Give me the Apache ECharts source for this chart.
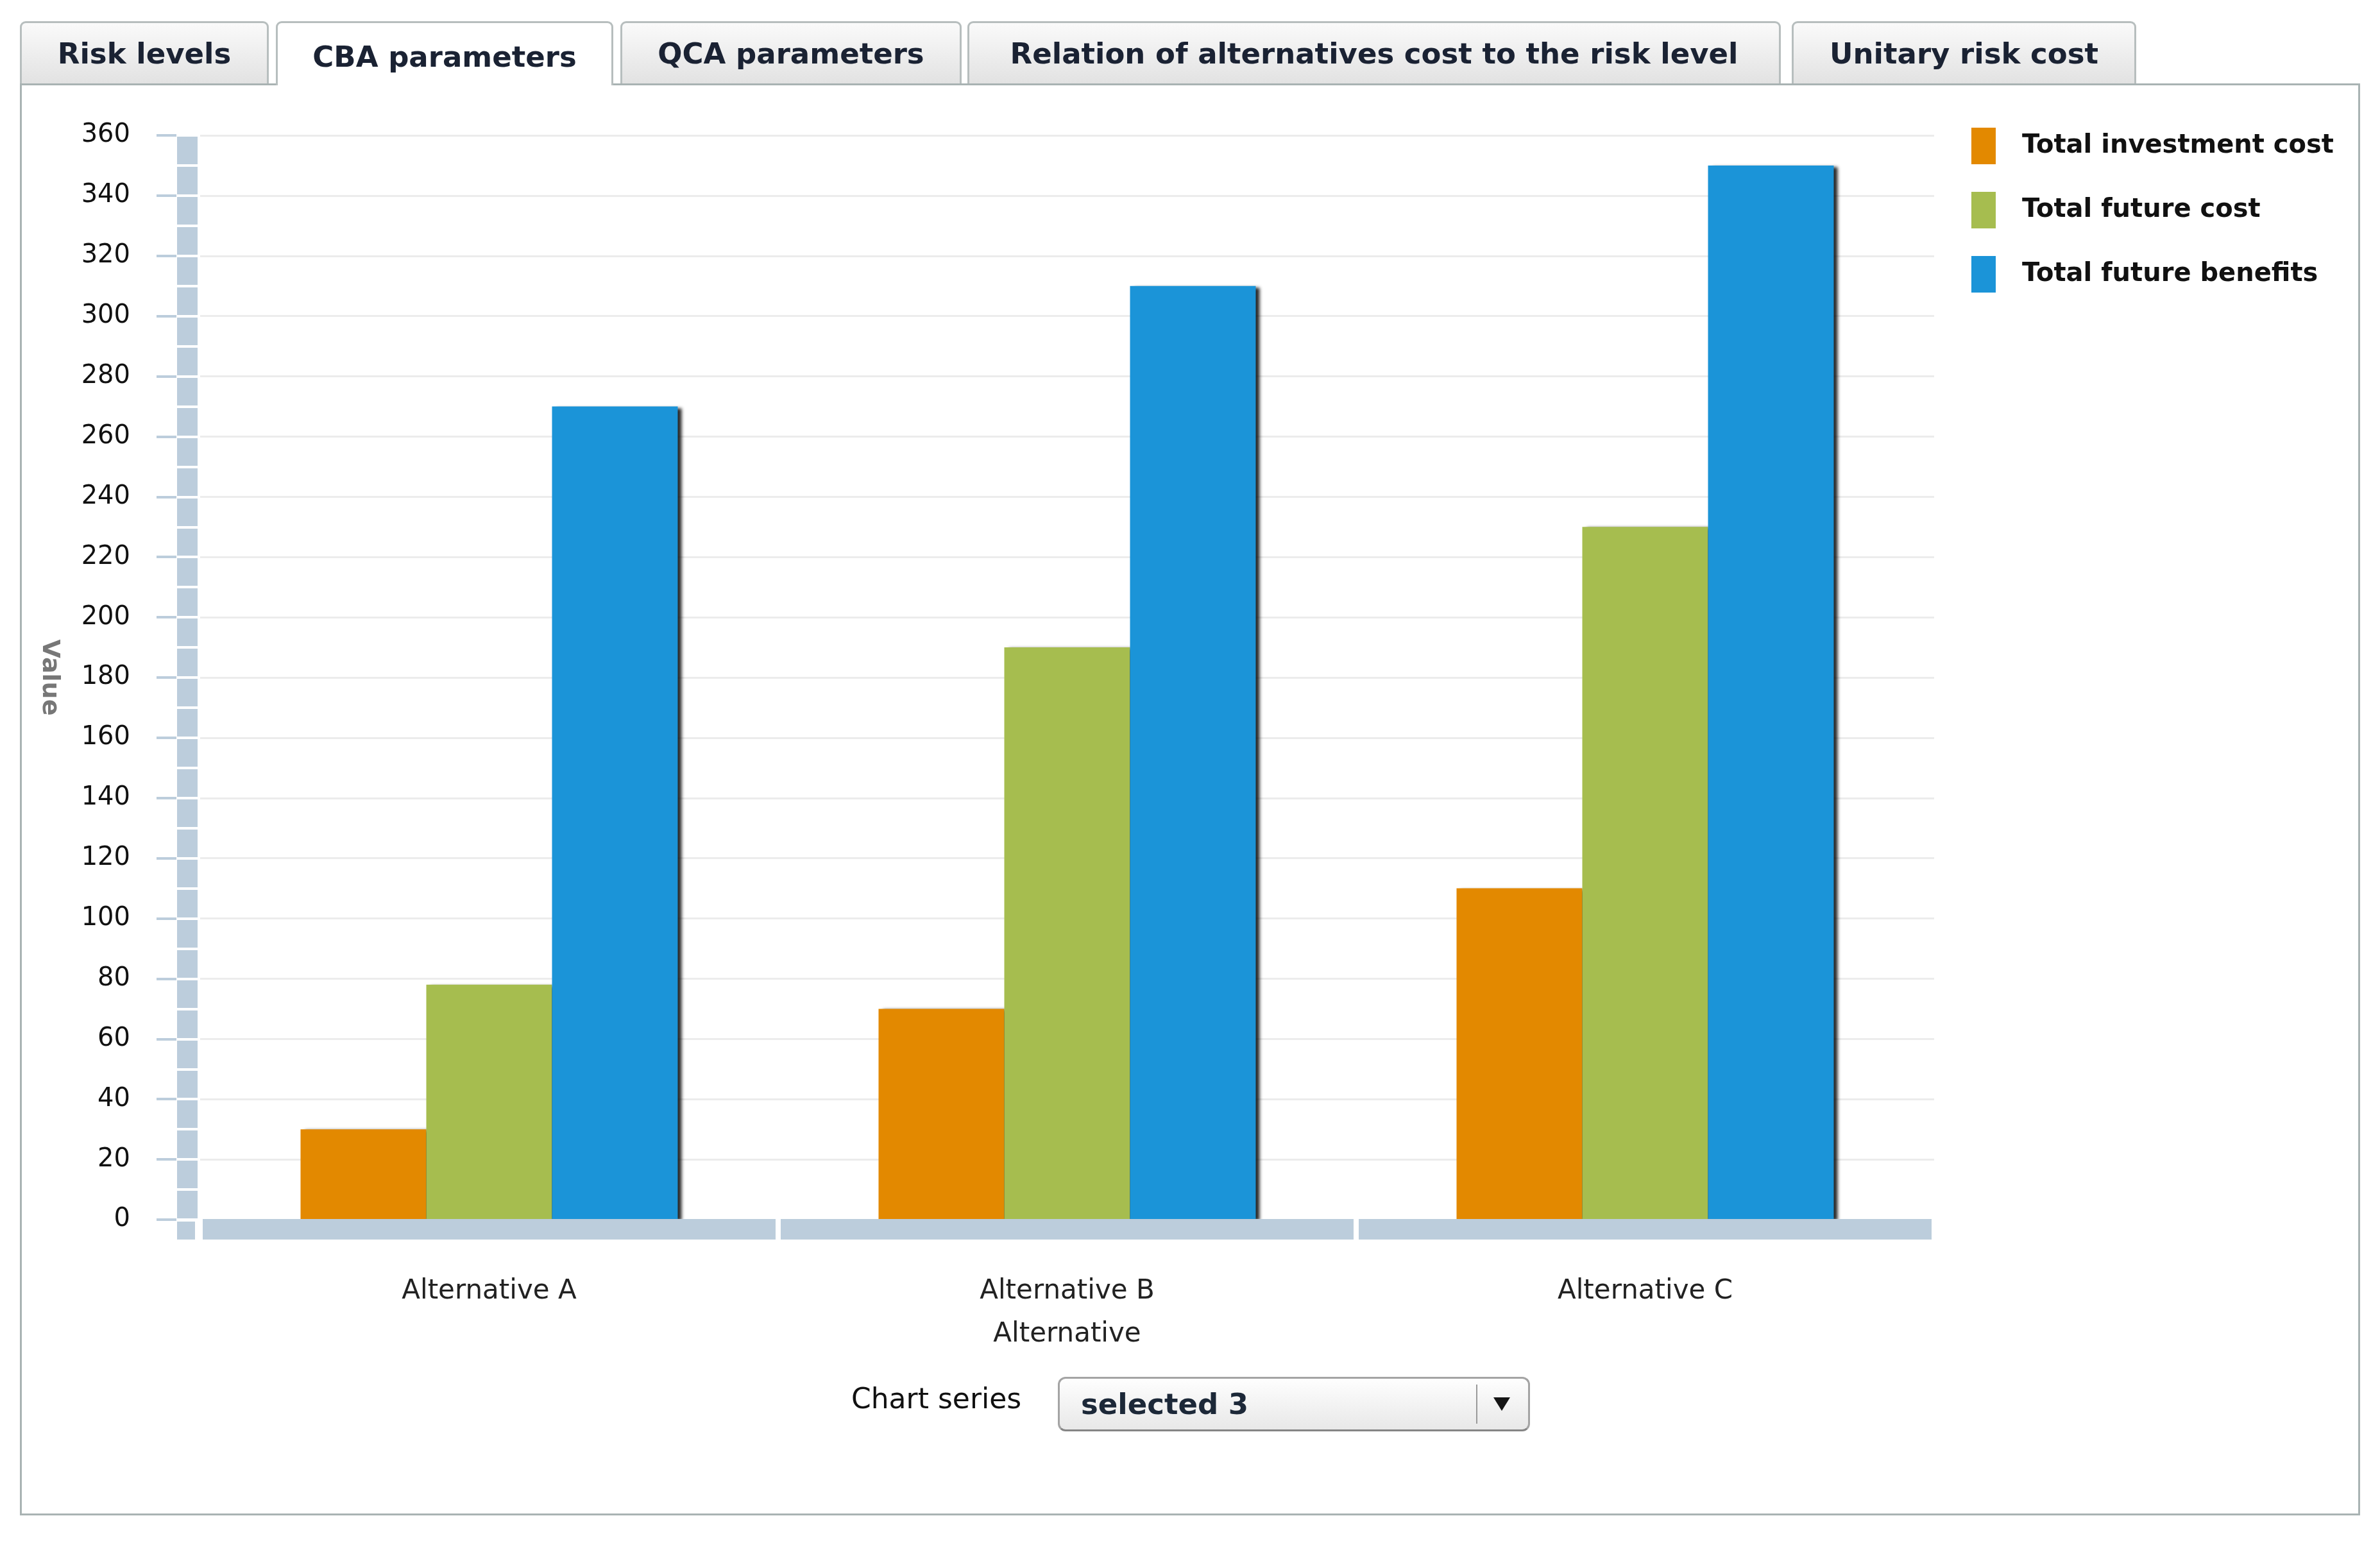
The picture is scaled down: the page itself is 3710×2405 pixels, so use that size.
<!DOCTYPE html>
<html>
<head>
<meta charset="utf-8">
<script src="https://cdn.jsdelivr.net/npm/echarts@6/dist/echarts.min.js"></script>
<style>
  html, body { margin:0; padding:0; background:#ffffff; }
  body { width:3710px; height:2405px; position:relative; overflow:hidden; font-family:"DejaVu Sans", Verdana, sans-serif; }
  #panel { position:absolute; left:31px; top:130px; width:3648px; height:2232px; box-sizing:border-box; border:3px solid #a9b3b3; z-index:1; }
  .tab { position:absolute; top:33px; height:97px; box-sizing:border-box; border:3px solid #b7bebe; border-bottom:none;
         border-radius:9px 9px 0 0; background:linear-gradient(#fafafa, #e2e2e2); color:#1a2233; font-weight:bold;
         font-size:45px; display:flex; align-items:center; justify-content:center; white-space:nowrap; z-index:3; }
  .tab.active { background:#ffffff; height:100px; padding-top:8px; }
  #chart { position:absolute; left:0; top:0; width:3710px; height:2405px; z-index:2; }
  #seriesLabel { position:absolute; left:1327px; top:2150px; height:60px; line-height:60px; font-size:44px; color:#111; z-index:3; white-space:nowrap; }
  #dropdown { position:absolute; left:1649px; top:2146px; width:736px; height:85px; box-sizing:border-box; border:3px solid #a4a4a4;
              border-bottom-color:#858585; border-radius:12px; background:linear-gradient(#fefefe, #e8e8e8); z-index:3; }
  #dropdown .txt { position:absolute; left:33px; top:0; height:79px; line-height:79px; font-weight:bold; font-size:45px; color:#1c2838; white-space:nowrap; }
  #dropdown .sep { position:absolute; left:649px; top:9px; bottom:9px; width:2px; background:#9a9a9a; }
  #dropdown .arrow { position:absolute; left:676px; top:29px; width:0; height:0; border-left:13px solid transparent; border-right:13px solid transparent; border-top:21px solid #151515; }
</style>
</head>
<body>
<div id="panel"></div>
<div class="tab" style="left:31px; width:388px;">Risk levels</div>
<div class="tab active" style="left:430px; width:526px;">CBA parameters</div>
<div class="tab" style="left:967px; width:532px;">QCA parameters</div>
<div class="tab" style="left:1508px; width:1268px;">Relation of alternatives cost to the risk level</div>
<div class="tab" style="left:2793px; width:537px;">Unitary risk cost</div>
<div id="chart"></div>
<div id="seriesLabel">Chart series</div>
<div id="dropdown"><div class="txt">selected 3</div><div class="sep"></div><div class="arrow"></div></div>
<script>
// ---- data ----
const categories = ['Alternative A', 'Alternative B', 'Alternative C'];
const seriesNames = ['Total investment cost', 'Total future cost', 'Total future benefits'];
const investmentCost = [30, 70, 110];
const futureCost = [78, 190, 230];
const futureBenefits = [270, 310, 350];
const yMin = 0, yMax = 360, yStep = 20;
const xAxisTitle = 'Alternative';
const yAxisTitle = 'Value';

const colors = ['#e38900', '#a6bd4f', '#1b94d8'];
const FONT = 'DejaVu Sans';
const barBlue = '#bccddc';

const chart = echarts.init(document.getElementById('chart'), null, { renderer: 'canvas' });

const valueAxisBase = { type: 'value', min: yMin, max: yMax, interval: yStep, position: 'left' };
const barStyle = (c) => ({ color: c, shadowColor: 'rgba(0,0,0,0.85)', shadowBlur: 5, shadowOffsetX: 6, shadowOffsetY: 2 });

chart.setOption({
  backgroundColor: 'transparent',
  animation: false,
  grid: { left: 312, right: 695, top: 211, bottom: 504 },
  legend: {
    data: seriesNames, orient: 'vertical', left: 3073, top: 199, padding: 0,
    itemWidth: 38, itemHeight: 57, itemGap: 43, icon: 'rect',
    textStyle: { fontFamily: FONT, fontSize: 40, fontWeight: 'bold', color: '#111', padding: [0, 0, 0, 36] }
  },
  xAxis: [
    {
      type: 'category', data: categories, position: 'bottom', offset: 15, z: 3,
      axisLine: { show: true, onZero: false, lineStyle: { color: barBlue, width: 32, cap: 'butt' } },
      axisTick: { show: true, length: 17, lineStyle: { color: '#ffffff', width: 8, cap: 'butt' } },
      axisLabel: { margin: 76, fontFamily: FONT, fontSize: 42, color: '#222' },
      name: xAxisTitle, nameLocation: 'middle', nameGap: 143,
      nameTextStyle: { fontFamily: FONT, fontSize: 42, color: '#222' }
    },
    {
      type: 'category', data: categories, position: 'bottom', offset: 15, z: 3,
      axisLine: { show: false, onZero: false },
      axisTick: { show: true, inside: true, length: 17, lineStyle: { color: '#ffffff', width: 8, cap: 'butt' } },
      axisLabel: { show: false }
    }
  ],
  yAxis: [
    Object.assign({}, valueAxisBase, {
      offset: 36,
      axisLine: { show: false, onZero: false },
      axisTick: { show: true, length: 32, lineStyle: { color: barBlue, width: 4, cap: 'butt' } },
      axisLabel: { margin: 73, fontFamily: FONT, fontSize: 40, color: '#111' },
      splitLine: { show: true, lineStyle: { color: '#ececec', width: 3 } },
      name: yAxisTitle, nameLocation: 'middle', nameRotate: -90, nameGap: 180,
      nameTextStyle: { fontFamily: FONT, fontSize: 38, fontWeight: 'bold', color: '#777' }
    }),
    Object.assign({}, valueAxisBase, {
      offset: 20,
      axisLine: { show: true, onZero: false, lineStyle: { color: barBlue, width: 32, cap: 'butt' } },
      axisTick: { show: true, length: 17, lineStyle: { color: '#ffffff', width: 4, cap: 'butt' } },
      minorTick: { show: true, splitNumber: 2, length: 17, lineStyle: { color: '#ffffff', width: 4, cap: 'butt' } },
      axisLabel: { show: false }, splitLine: { show: false }
    }),
    Object.assign({}, valueAxisBase, {
      offset: 20,
      axisLine: { show: false, onZero: false },
      axisTick: { show: true, inside: true, length: 17, lineStyle: { color: '#ffffff', width: 4, cap: 'butt' } },
      minorTick: { show: true, splitNumber: 2, length: 17, lineStyle: { color: '#ffffff', width: 4, cap: 'butt' } },
      axisLabel: { show: false }, splitLine: { show: false }
    })
  ],
  series: [
    { name: seriesNames[0], type: 'bar', xAxisIndex: 0, yAxisIndex: 0, data: investmentCost, barWidth: 196, barGap: '0%', itemStyle: barStyle(colors[0]) },
    { name: seriesNames[1], type: 'bar', xAxisIndex: 0, yAxisIndex: 0, data: futureCost, barWidth: 196, barGap: '0%', itemStyle: barStyle(colors[1]) },
    { name: seriesNames[2], type: 'bar', xAxisIndex: 0, yAxisIndex: 0, data: futureBenefits, barWidth: 196, barGap: '0%', itemStyle: barStyle(colors[2]) }
  ]
});

// corner block of the axis "wall" below the value axis, placed from the axis scale
const zeroPx = chart.convertToPixel({ yAxisIndex: 0 }, yMin);
chart.setOption({
  graphic: [{ type: 'rect', z: 5, shape: { x: 276, y: zeroPx + 3, width: 28, height: 28 }, style: { fill: barBlue } }]
});
</script>
</body>
</html>
